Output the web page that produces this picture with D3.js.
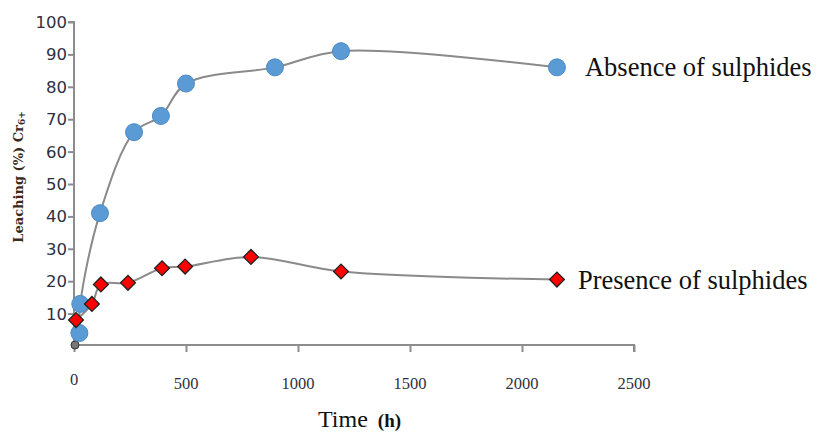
<!DOCTYPE html>
<html>
<head>
<meta charset="utf-8">
<script src="https://cdn.jsdelivr.net/npm/d3@7"></script>
<style>
  body { margin: 0; background: #fff; }
  svg { display: block; }
</style>
</head>
<body>
<div class="output"><svg width="817" height="436"></svg></div>
<script>
// times in hours, leaching in %
var absenceTime  = [24, 28, 116, 268, 388, 500, 897, 1192, 2156]
var absenceValue = [4, 13, 41, 66, 71, 81, 86, 91, 86]
var presenceTime  = [9, 80, 120, 241, 393, 496, 790, 1192, 2156]
var presenceValue = [8, 13, 19, 19.5, 24, 24.5, 27.5, 23, 20.5]
var originPoint = [[0, 0]]
var xTicks = [0, 500, 1000, 1500, 2000, 2500]
var yTicks = [10, 20, 30, 40, 50, 60, 70, 80, 90, 100]
var seriesNames = ["Absence of sulphides", "Presence of sulphides"]

var svg = d3.select("div.output svg")

var x = d3.scaleLinear().domain([0, 2500]).range([74, 634])
var y = d3.scaleLinear().domain([0, 100]).range([346, 22])

var absence = absenceTime.map(function(t, i) { return [t, absenceValue[i]] })
var presence = presenceTime.map(function(t, i) { return [t, presenceValue[i]] })

// axes, gray
var xAxis = svg.append("g")
  .attr("transform", "translate(0,345)")
  .call(d3.axisBottom(x).tickValues(xTicks).tickSize(7).tickFormat(""))
var yAxis = svg.append("g")
  .attr("transform", "translate(74,0)")
  .call(d3.axisLeft(y).tickValues(yTicks).tickSize(6).tickFormat(""))
svg.selectAll(".domain, .tick line")
  .attr("stroke", "#8c8c8c")
  .attr("stroke-width", 2)
xAxis.select(".domain").attr("d", "M" + x(0) + ",0H" + x(2500) + "V7")
yAxis.select(".domain").attr("d", "M-6," + y(100) + "H0V345")

// tick labels
svg.selectAll("text.ylab")
  .data(yTicks)
  .enter().append("text")
    .attr("class", "ylab")
    .attr("x", 67)
    .attr("y", function(d) { return y(d) + 6 })
    .attr("text-anchor", "end")
    .style("font-family", "'DejaVu Sans', sans-serif")
    .style("font-size", "16.5px")
    .style("fill", "#2e3040")
    .text(function(d) { return d })

svg.selectAll("text.xlab")
  .data(xTicks)
  .enter().append("text")
    .attr("class", "xlab")
    .attr("x", function(d) { return x(d) })
    .attr("y", function(d) { return d == 0 ? 385 : 389 })
    .attr("text-anchor", "middle")
    .style("font-family", "'Liberation Serif', serif")
    .style("font-size", "16.5px")
    .style("fill", "#2e3040")
    .text(function(d) { return d })

// axis titles
var xt = svg.append("text")
  .attr("x", 318).attr("y", 427)
  .style("font-family", "'Liberation Serif', serif")
  .style("fill", "#111")
xt.append("tspan").style("font-size", "24px").text("Time")
xt.append("tspan").attr("dx", 10).style("font-size", "19px").style("font-weight", "bold").text("(h)")

var yt = svg.append("text")
  .attr("transform", "translate(23,177) rotate(-90)")
  .attr("text-anchor", "middle")
  .style("font-family", "'DejaVu Serif', serif")
  .style("font-size", "13px")
  .style("font-weight", "bold")
  .style("fill", "#3a2a1c")
yt.append("tspan").text("Leaching  (%) Cr")
yt.append("tspan").attr("dy", 2).style("font-size", "9px").text("6+")

// lines
var line = d3.line()
  .x(function(d) { return x(d[0]) })
  .y(function(d) { return y(d[1]) })
  .curve(d3.curveCatmullRom)

svg.append("path").datum(absence)
  .attr("d", line)
  .attr("fill", "none").attr("stroke", "#8a8a8a").attr("stroke-width", 2)
svg.append("path").datum(presence)
  .attr("d", line)
  .attr("fill", "none").attr("stroke", "#8a8a8a").attr("stroke-width", 2)

// origin marker
svg.selectAll("circle.origin")
  .data(originPoint)
  .enter().append("circle")
    .attr("class", "origin")
    .attr("cx", function(d) { return x(d[0]) + 1 })
    .attr("cy", function(d) { return y(d[1]) - 1 })
    .attr("r", 4)
    .style("fill", "#777")
    .style("stroke", "#333")

// markers
svg.selectAll("circle.abs")
  .data(absence)
  .enter().append("circle")
    .attr("class", "abs")
    .attr("cx", function(d) { return x(d[0]) })
    .attr("cy", function(d) { return y(d[1]) })
    .attr("r", 8.5)
    .style("fill", "#5b9bd5")
    .style("stroke", "#4f8ac2")
    .style("stroke-width", 1)

var diamond = d3.symbol().type(d3.symbolSquare).size(110)
svg.selectAll("path.pres")
  .data(presence)
  .enter().append("path")
    .attr("class", "pres")
    .attr("d", diamond)
    .attr("transform", function(d) { return "translate(" + x(d[0]) + "," + y(d[1]) + ") rotate(45)" })
    .style("fill", "#ff0000")
    .style("stroke", "#222")
    .style("stroke-width", 1.3)

// labels next to the last points
var lastPts = [absence[absence.length - 1], presence[presence.length - 1]]
svg.selectAll("text.series")
  .data(lastPts)
  .enter().append("text")
    .attr("class", "series")
    .attr("x", function(d, i) { return x(d[0]) + (i == 0 ? 28 : 21) })
    .attr("y", function(d) { return y(d[1]) + 9 })
    .style("font-family", "'Liberation Serif', serif")
    .style("font-size", "26.5px")
    .style("fill", "#111")
    .text(function(d, i) { return seriesNames[i] })
</script>
</body>
</html>
